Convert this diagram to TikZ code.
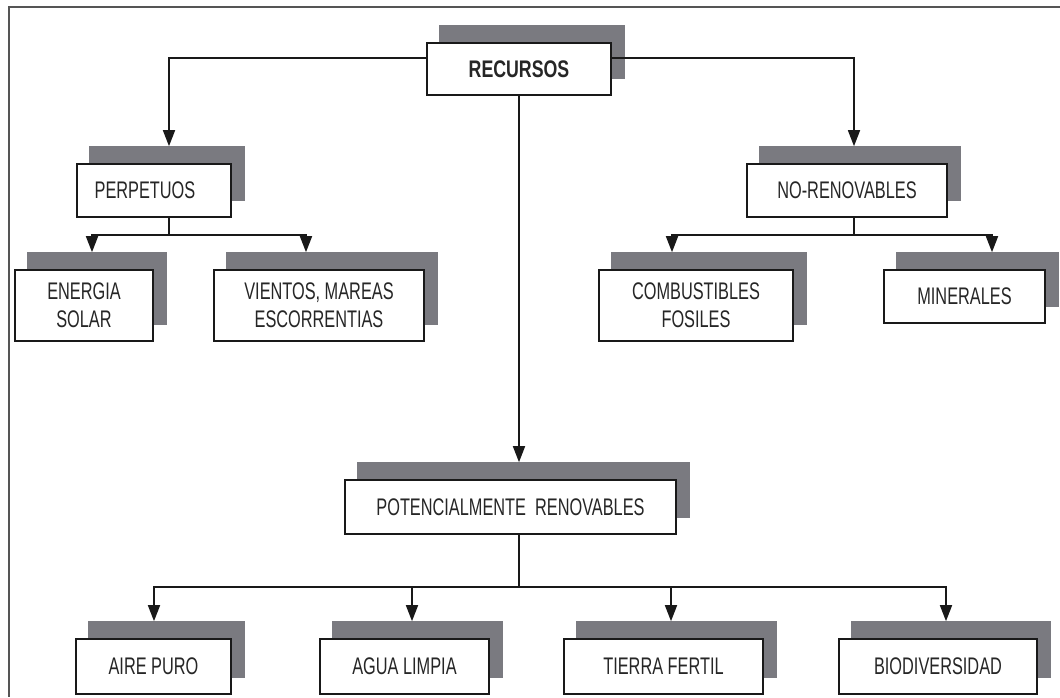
\documentclass[tikz,border=0pt]{standalone}
\usepackage{fontspec}
\newfontfamily\nf[FakeStretch=0.68]{Liberation Sans}
\newfontfamily\nfb[FakeStretch=0.74]{Liberation Sans}
\usetikzlibrary{arrows.meta,backgrounds}
\definecolor{shd}{RGB}{122,122,128}
\definecolor{ink}{RGB}{25,25,25}
\definecolor{framec}{RGB}{85,85,85}
\begin{document}
\begin{tikzpicture}[x=1pt,y=-1pt,
  box/.style={draw=ink, line width=1.6pt, fill=white, inner sep=0pt, align=center,
    font=\nf\fontsize{24}{28}\selectfont, text=black!85},
  conn/.style={line width=1.6pt, draw=ink},
  arr/.style={conn, -{Triangle[length=16pt,width=12pt]}},
  shadowfill/.style={fill=shd},
  frameline/.style={line width=2.6pt, draw=framec}]
\useasboundingbox (0,0) rectangle (1060,697);
\draw[frameline] (1060,7) -| (9,697);

% boxes
\node[box, minimum width=184pt, minimum height=52pt, font=\nfb\bfseries\fontsize{24}{28}\selectfont] (rec) at (519,69) {RECURSOS};
\node[box, minimum width=154pt, minimum height=53pt] (perp) at (154,190.5) {\hspace*{-18pt}PERPETUOS};
\node[box, minimum width=200pt, minimum height=53pt] (nore) at (847,190.5) {NO-RENOVABLES};
\node[box, minimum width=138pt, minimum height=71pt] (ener) at (84,305.5) {ENERGIA\\SOLAR};
\node[box, minimum width=210pt, minimum height=71pt] (vien) at (319,305.5) {VIENTOS, MAREAS\\ESCORRENTIAS};
\node[box, minimum width=194pt, minimum height=71pt] (comb) at (696,305.5) {COMBUSTIBLES\\FOSILES};
\node[box, minimum width=161pt, minimum height=53pt] (mine) at (964.5,296.5) {MINERALES};
\node[box, minimum width=331pt, minimum height=54pt] (pot) at (510.5,507) {POTENCIALMENTE\ \ RENOVABLES};
\node[box, minimum width=155pt, minimum height=55pt] (aire) at (153.5,666.5) {AIRE PURO};
\node[box, minimum width=169pt, minimum height=55pt] (agua) at (404.5,666.5) {AGUA LIMPIA};
\node[box, minimum width=199pt, minimum height=55pt] (tier) at (663.5,666.5) {TIERRA FERTIL};
\node[box, minimum width=198pt, minimum height=55pt] (bio) at (938,666.5) {BIODIVERSIDAD};

% shadows
\begin{scope}[on background layer]
\foreach \n in {rec,perp,nore,ener,vien,comb,mine,pot,aire,agua,tier,bio}
  \fill[shadowfill] ([xshift=13pt,yshift=17pt]\n.south west) rectangle ([xshift=13pt,yshift=17pt]\n.north east);
\end{scope}

% top level
\coordinate (perpT) at ([xshift=15pt,yshift=17pt]perp.north);
\coordinate (noreT) at ([xshift=7pt,yshift=17pt]nore.north);
\coordinate (potT) at ([yshift=17pt]pot.north);
\draw[arr] ([yshift=11pt]rec.west) -| (perpT);
\draw[arr] ([yshift=11pt]rec.east) -| (noreT);
\draw[arr] (rec.south) -- (rec.south |- potT);

% perpetuos branch
\coordinate (pj) at ([xshift=15pt,yshift=-17pt]perp.south);
\coordinate (enerT) at ([xshift=8pt,yshift=17pt]ener.north);
\coordinate (vienT) at ([xshift=-13pt,yshift=17pt]vien.north);
\draw[conn] ([xshift=15pt]perp.south) -- (pj);
\draw[arr] (pj) -| (enerT);
\draw[arr] (pj) -| (vienT);

% no-renovables branch
\coordinate (nj) at ([xshift=7pt,yshift=-17pt]nore.south);
\coordinate (combT) at ([xshift=-24pt,yshift=17pt]comb.north);
\coordinate (mineT) at ([xshift=27.5pt,yshift=17pt]mine.north);
\draw[conn] ([xshift=7pt]nore.south) -- (nj);
\draw[arr] (nj) -| (combT);
\draw[arr] (nj) -| (mineT);

% potencialmente branch
\coordinate (qj) at ([xshift=8.5pt,yshift=-52pt]pot.south);
\coordinate (aireT) at ([xshift=0.5pt,yshift=17pt]aire.north);
\coordinate (aguaT) at ([xshift=7.5pt,yshift=17pt]agua.north);
\coordinate (tierT) at ([xshift=7.5pt,yshift=17pt]tier.north);
\coordinate (bioT) at ([xshift=8pt,yshift=17pt]bio.north);
\draw[conn] ([xshift=8.5pt]pot.south) -- (qj);
\draw[arr] (qj) -| (aireT);
\draw[arr] (qj) -| (aguaT);
\draw[arr] (qj) -| (tierT);
\draw[arr] (qj) -| (bioT);
\end{tikzpicture}
\end{document}
